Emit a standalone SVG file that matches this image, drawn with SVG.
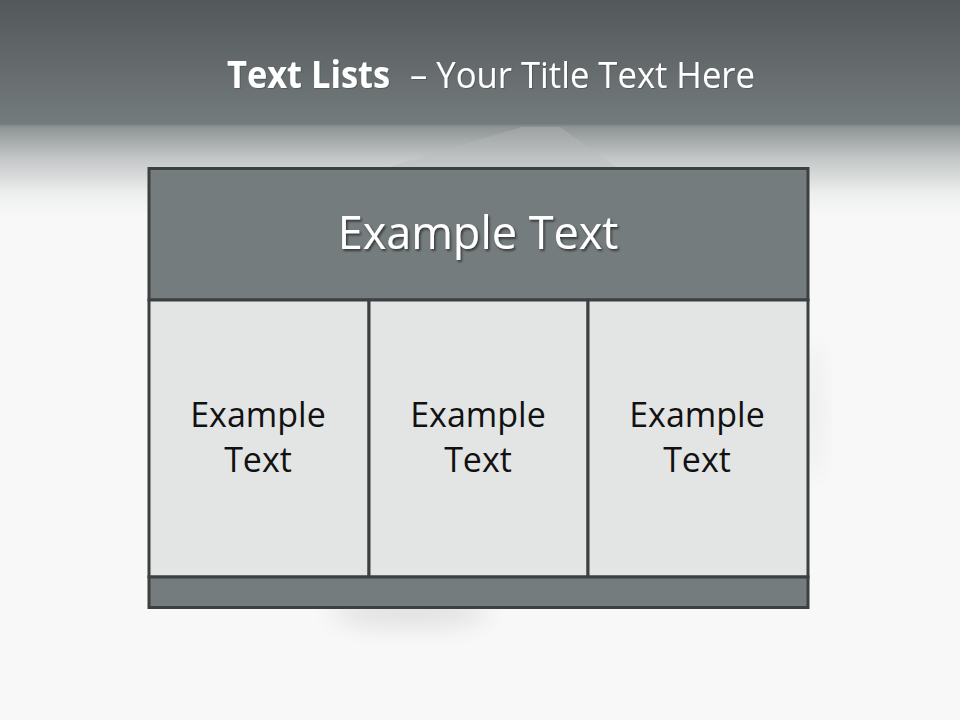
<svg xmlns="http://www.w3.org/2000/svg" width="960" height="720" viewBox="0 0 960 720">
<defs>
  <linearGradient id="bg" x1="0" y1="0" x2="0" y2="1">
    <stop offset="0" stop-color="#53585b"/>
    <stop offset="0.172" stop-color="#747b7c"/>
    <stop offset="0.176" stop-color="#8e9495"/>
    <stop offset="0.22" stop-color="#c4c7c7"/>
    <stop offset="0.27" stop-color="#eeefef"/>
    <stop offset="0.3" stop-color="#f8f8f8"/>
    <stop offset="1" stop-color="#f8f8f8"/>
  </linearGradient>
  <filter id="blur" x="-50%" y="-50%" width="200%" height="200%">
    <feGaussianBlur stdDeviation="12"/>
  </filter>
  <filter id="tshadow" x="-10%" y="-20%" width="120%" height="150%">
    <feDropShadow dx="1.5" dy="2" stdDeviation="1.2" flood-color="#000" flood-opacity="0.55"/>
  </filter>
  <filter id="ttshadow" x="-10%" y="-20%" width="120%" height="150%">
    <feDropShadow dx="1" dy="1" stdDeviation="0.6" flood-color="#000" flood-opacity="0.2"/>
  </filter>
</defs>
<style>
  .head { fill: #757c7d; stroke: #3c4041; stroke-width: 3; }
  .cell { fill: #e3e4e4; stroke: #3c4041; stroke-width: 3; }
  .foot { fill: #757c7d; stroke: #3c4041; stroke-width: 3; }
  .ct { font-family: "Open Sans", "Liberation Sans", sans-serif; font-size: 34px; fill: #111; text-anchor: middle; }
  .title { font-family: "Open Sans", "Liberation Sans", sans-serif; font-size: 37px; fill: #ffffff; }
</style>
<rect x="0" y="0" width="960" height="720" fill="url(#bg)"/>
<polygon points="389,167 522,127 560,127 616,167" fill="#b6babb" opacity="0.35"/>
<ellipse cx="410" cy="612" rx="80" ry="16" fill="#000" opacity="0.09" filter="url(#blur)"/>
<ellipse cx="812" cy="410" rx="10" ry="70" fill="#000" opacity="0.05" filter="url(#blur)"/>

<g id="title" filter="url(#ttshadow)">
  <text class="title" x="227" y="88" font-weight="bold" textLength="163" lengthAdjust="spacingAndGlyphs">Text Lists</text>
  <text class="title" x="410" y="88" textLength="345" lengthAdjust="spacingAndGlyphs">– Your Title Text Here</text>
</g>

<g id="header">
  <rect class="head" x="149" y="168.5" width="659" height="131.5"/>
  <text x="478" y="249" font-family="'Open Sans', 'Liberation Sans', sans-serif" font-size="45" fill="#ffffff" text-anchor="middle" filter="url(#tshadow)">Example Text</text>
</g>

<g id="cell1">
  <rect class="cell" x="149" y="300" width="220" height="277"/>
  <text class="ct" x="258" y="427">Example</text>
  <text class="ct" x="258" y="472">Text</text>
</g>
<g id="cell2">
  <rect class="cell" x="369" y="300" width="219" height="277"/>
  <text class="ct" x="478" y="427">Example</text>
  <text class="ct" x="478" y="472">Text</text>
</g>
<g id="cell3">
  <rect class="cell" x="588" y="300" width="220" height="277"/>
  <text class="ct" x="697" y="427">Example</text>
  <text class="ct" x="697" y="472">Text</text>
</g>
<g id="footer">
  <rect class="foot" x="149" y="577" width="659" height="30.5"/>
</g>
</svg>
